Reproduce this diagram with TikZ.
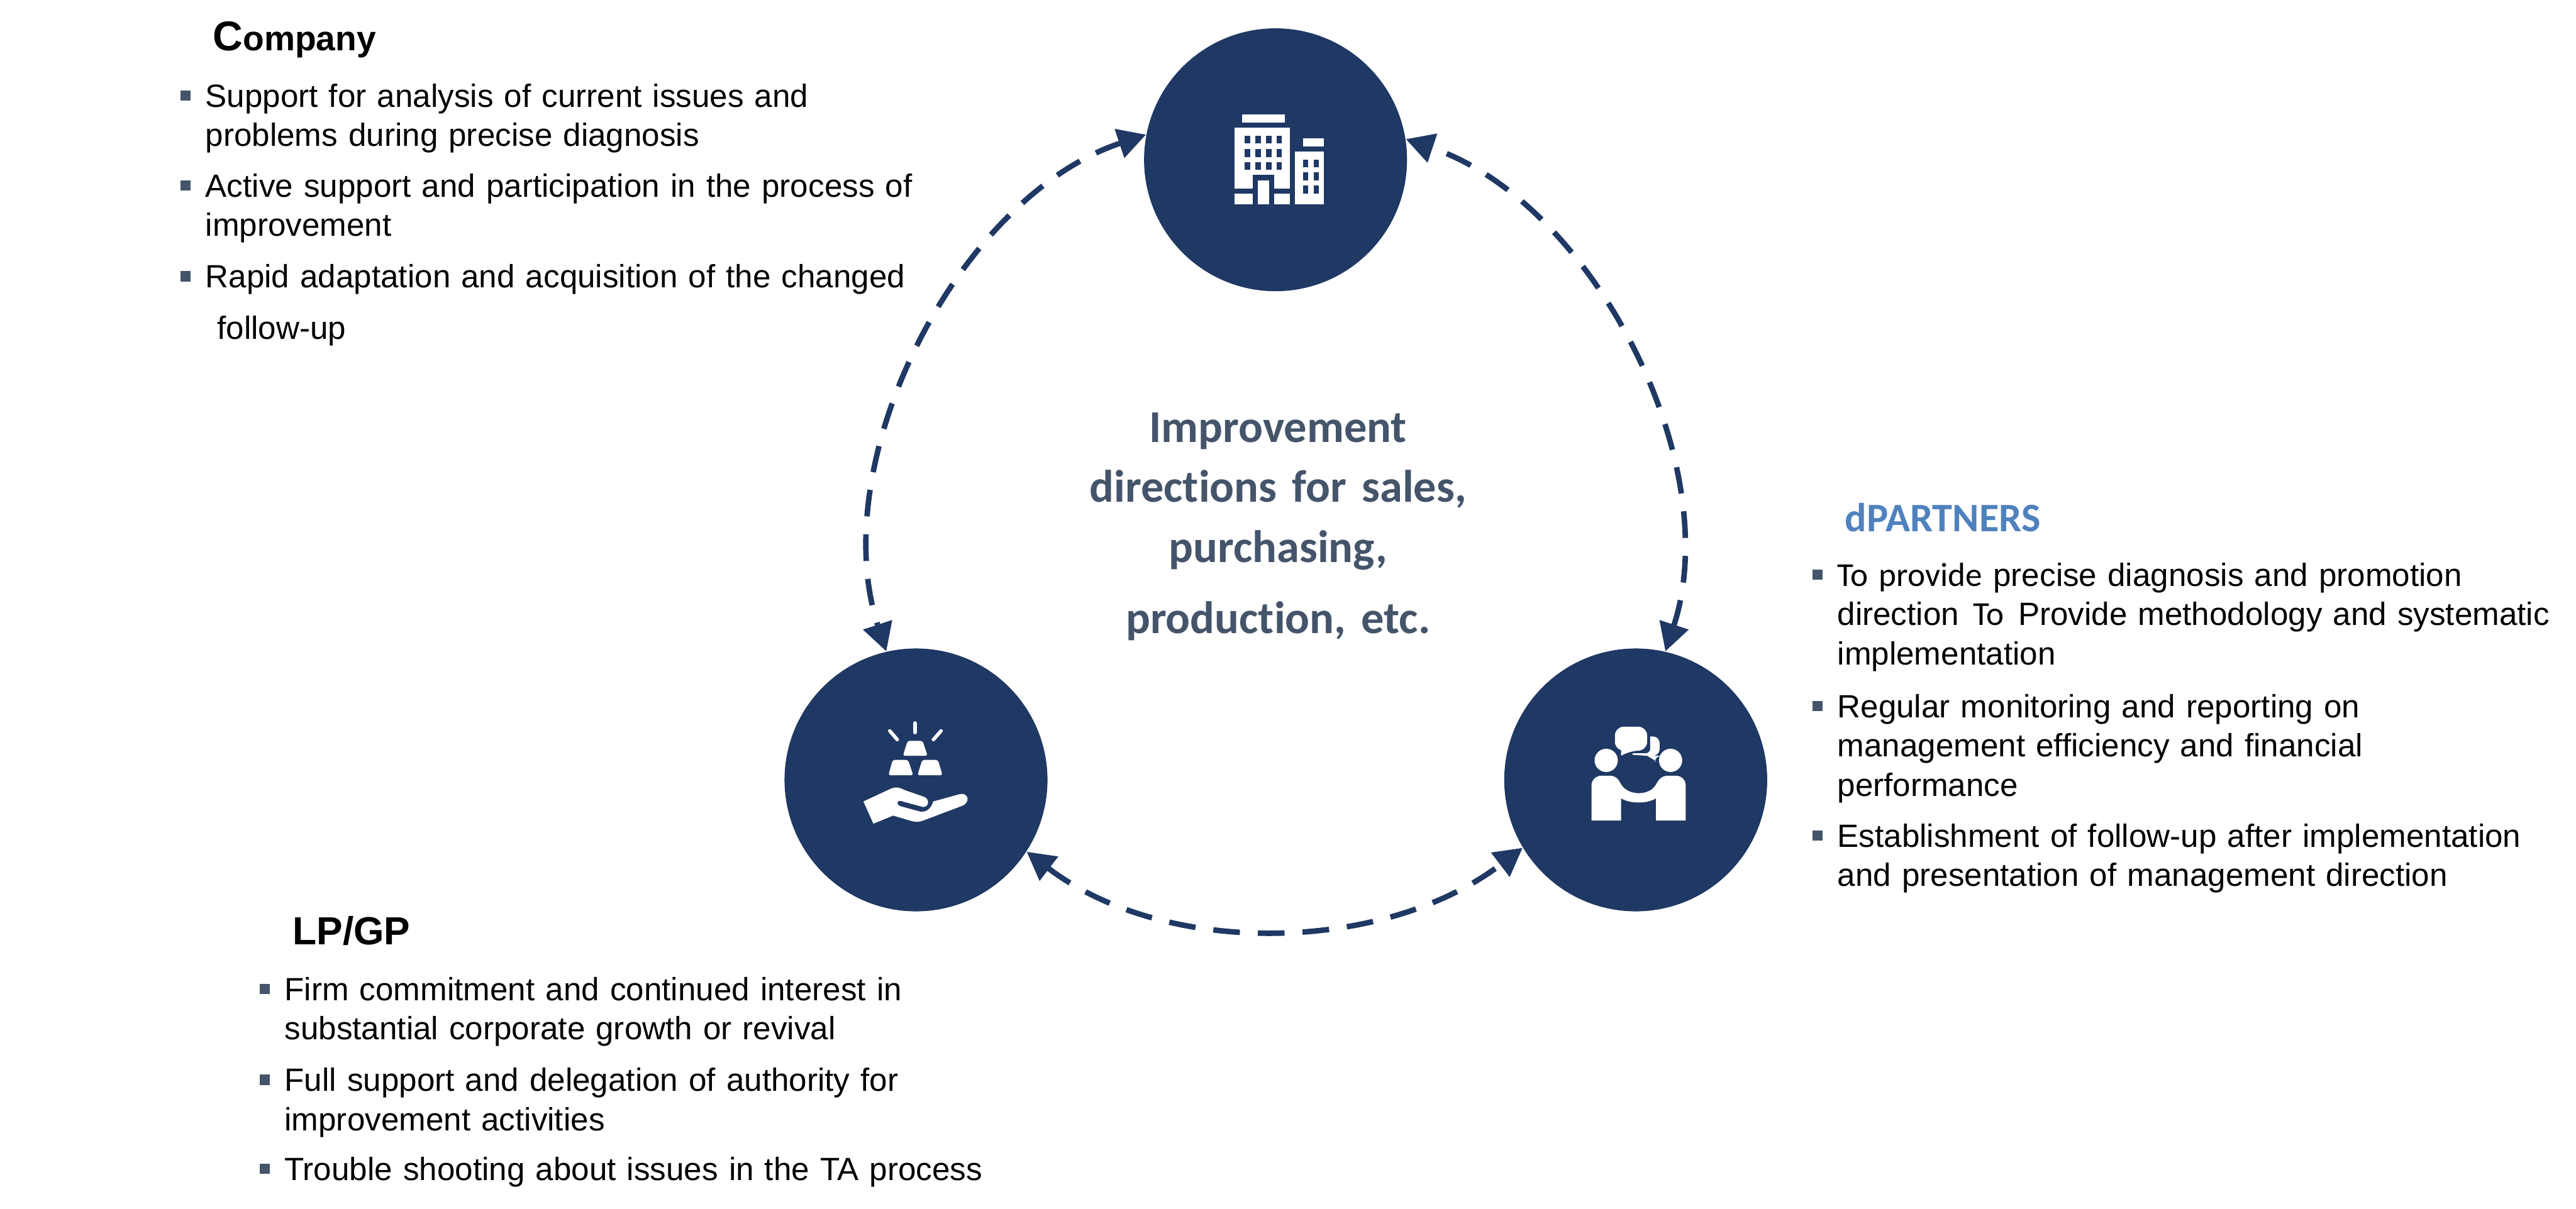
\documentclass[tikz,border=0pt]{standalone}
\usepackage{fontspec}
\setmainfont{Liberation Sans}
\newfontfamily\carlitofont[Ligatures=NoCommon,WordSpace=0.7]{Carlito}
\usetikzlibrary{arrows.meta}
\definecolor{ringblue}{HTML}{1F3864}
\definecolor{slatetext}{HTML}{44546A}
\definecolor{partnerblue}{HTML}{4F81BD}
\tikzset{
  roundnode/.style={circle,fill=ringblue,inner sep=0pt,minimum size=4.22cm},
  duallink/.style={draw=ringblue,line width=2.5pt,dash pattern=on 12.2pt off 8.2pt,
    {Triangle[length=4.5mm,width=4.7mm]}-{Triangle[length=4.5mm,width=4.7mm]}},
  headtext/.style={anchor=base west,inner sep=0pt,font=\bfseries\fontsize{17.9}{21}\selectfont},
  itemtext/.style={anchor=base west,inner sep=0pt,align=left,font=\fontsize{14.7}{17.92}\selectfont},
  itembullet/.style={fill=slatetext,inner sep=0pt,minimum size=1.65mm},
}
\newcommand{\listItem}[5]{%
  \node[itemtext,text width=#2cm] (#1) at (#3,#4) {#5};
  \node[itembullet] (#1dot) at ([shift={(-0.31,0.185)}]#1.base west) {};}
\newcommand{\carlitoTo}[1]{{\carlitofont\fontsize{15.3}{17.92}\selectfont #1}}
\newcommand{\iconBuilding}{%
  \begin{scope}[shift={(18cm,0cm)},x=0.03333mm,y=-0.03333mm]
    \fill[white] (580,552) rectangle (785,592);
    \fill[white] (543,615) rectangle (810,984);
    \fill[white] (873,666) rectangle (975,706);
    \fill[white] (833,729) rectangle (975,984);
    \foreach \x in {593,645,696,746}
      \foreach \y in {653,717,780}
        \fill[ringblue] (\x,\y) rectangle ++(26,39);
    \foreach \x in {873,925}
      \foreach \y in {768,830,893}
        \fill[ringblue] (\x,\y) rectangle ++(26,39);
    \fill[ringblue] (543,908) rectangle (810,932);
    \fill[ringblue] (632,843) rectangle (733,984);
    \fill[white] (657,868) rectangle (709,984);
  \end{scope}}
\newcommand{\iconHand}{%
  \begin{scope}[shift={(12.3cm,-10.2cm)},x=0.03333mm,y=-0.03333mm]
    \draw[white,line width=1.6pt,line cap=round] (715,422) -- (715,468);
    \draw[white,line width=1.6pt,line cap=round] (594,460) -- (630,502);
    \draw[white,line width=1.6pt,line cap=round] (841,460) -- (804,502);
    \fill[white,rounded corners=1pt] (680,508) -- (752,508) -- (776,580) -- (657,580) -- cycle;
    \fill[white,rounded corners=1pt] (608,600) -- (682,600) -- (707,674) -- (587,674) -- cycle;
    \fill[white,rounded corners=1pt] (750,600) -- (826,600) -- (848,674) -- (727,674) -- cycle;
    \fill[white] (467,800) -- (600,738) .. controls (620,728) and (640,732) .. (665,745)
      -- (760,778) .. controls (785,788) and (785,825) .. (755,827)
      -- (645,797) .. controls (628,795) and (625,815) .. (642,822)
      -- (745,850) .. controls (775,850) and (795,830) .. (803,800)
      -- (930,765) .. controls (970,755) and (985,800) .. (945,820)
      -- (760,890) .. controls (735,900) and (715,900) .. (695,893)
      -- (610,868) -- (515,907) -- cycle;
  \end{scope}}
\newcommand{\iconPeople}{%
  \begin{scope}[shift={(24cm,-10.2cm)},x=0.03333mm,y=-0.03333mm]
    \fill[white] (533,602) circle (56);
    \fill[white] (843,602) circle (56);
    \fill[white] (462,892) -- (462,725) .. controls (462,695) and (485,676) .. (510,676)
      -- (550,676) .. controls (585,676) and (595,700) .. (605,718)
      .. controls (625,750) and (660,760) .. (690,760)
      .. controls (720,760) and (755,750) .. (773,718)
      .. controls (785,695) and (800,676) .. (830,676)
      -- (868,676) .. controls (895,676) and (916,695) .. (916,725)
      -- (916,892) -- (773,892) -- (773,785) .. controls (745,800) and (720,805) .. (690,805)
      .. controls (660,805) and (630,800) .. (605,785) -- (605,892) -- cycle;
    \fill[white,rounded corners=4pt] (575,440) -- (730,440) -- (730,555) -- (650,555)
      [sharp corners] -- (605,580) -- (605,555) [rounded corners=4pt] -- (575,555) -- cycle;
    \fill[white,rounded corners=3pt] (745,487) -- (790,487) -- (790,580) -- (767,580)
      [sharp corners] -- (767,602) -- (730,580) -- (660,575) -- (660,568) -- (725,568)
      .. controls (738,566) and (745,555) .. (745,545) -- cycle;
  \end{scope}}

\begin{document}
\begin{tikzpicture}
  \useasboundingbox (0,0) rectangle (41.34,-19.40);
  \node[roundnode] (company) at (20.47,-2.565) {};
  \node[roundnode] (lpgp) at (14.70,-12.52) {};
  \node[roundnode] (dpartners) at (26.25,-12.52) {};
  \draw[duallink] (company.169.6) to[out=198.4,in=108.2,looseness=0.88] (lpgp.103.7);
  \draw[duallink] (lpgp.-33) to[out=-37.3,in=217.3,looseness=0.9] (dpartners.211.7);
  \draw[duallink] (dpartners.77.2) to[out=71.9,in=-18.6,looseness=0.88] (company.9);
  \iconBuilding
  \iconHand
  \iconPeople
  \node[anchor=base,inner sep=0pt,text width=6.2cm,align=center,text=slatetext,
    font=\carlitofont\bfseries\fontsize{20.8}{27.4}\selectfont] (centertext) at (20.51,-7.10)
    {Improvement\\directions for sales,\\purchasing,\\[5.1pt]production, etc.};
  \node[headtext] (companyhead) at (3.41,-0.81)
    {{\fontsize{19}{21}\selectfont C}{\fontsize{15.85}{21}\selectfont ompany}};
  \listItem{companyone}{11.3}{3.29}{-1.72}{Support for analysis of current issues and\\problems during precise diagnosis}
  \listItem{companytwo}{11.6}{3.29}{-3.16}{Active support and participation in the process of\\improvement}
  \listItem{companythree}{11.5}{3.29}{-4.62}{Rapid adaptation and acquisition of the changed\\[5.6pt]\hspace*{5.4pt}follow-up}
  \node[headtext] (lpgphead) at (4.69,-15.16) {LP/GP};
  \listItem{lpgpone}{11.3}{4.56}{-16.06}{Firm commitment and continued interest in\\substantial corporate growth or revival}
  \listItem{lpgptwo}{11.3}{4.56}{-17.52}{Full support and delegation of authority for\\improvement activities}
  \listItem{lpgpthree}{11.5}{4.56}{-18.95}{Trouble shooting about issues in the TA process}
  \node[headtext,text=partnerblue,font=\carlitofont\bfseries\fontsize{18.5}{21}\selectfont] (dpartnershead) at (29.60,-8.53) {dPARTNERS};
  \listItem{dpartnersone}{11.6}{29.48}{-9.41}{\carlitoTo{To provide} precise diagnosis and promotion\\direction\hspace{1.5pt} \carlitoTo{To}\hspace{1.5pt} Provide methodology and systematic\\implementation}
  \listItem{dpartnerstwo}{11.6}{29.48}{-11.52}{Regular monitoring and reporting on\\management efficiency and financial\\performance}
  \listItem{dpartnersthree}{11.6}{29.48}{-13.60}{Establishment of follow-up after implementation\\and presentation of management direction}
\end{tikzpicture}
\end{document}
